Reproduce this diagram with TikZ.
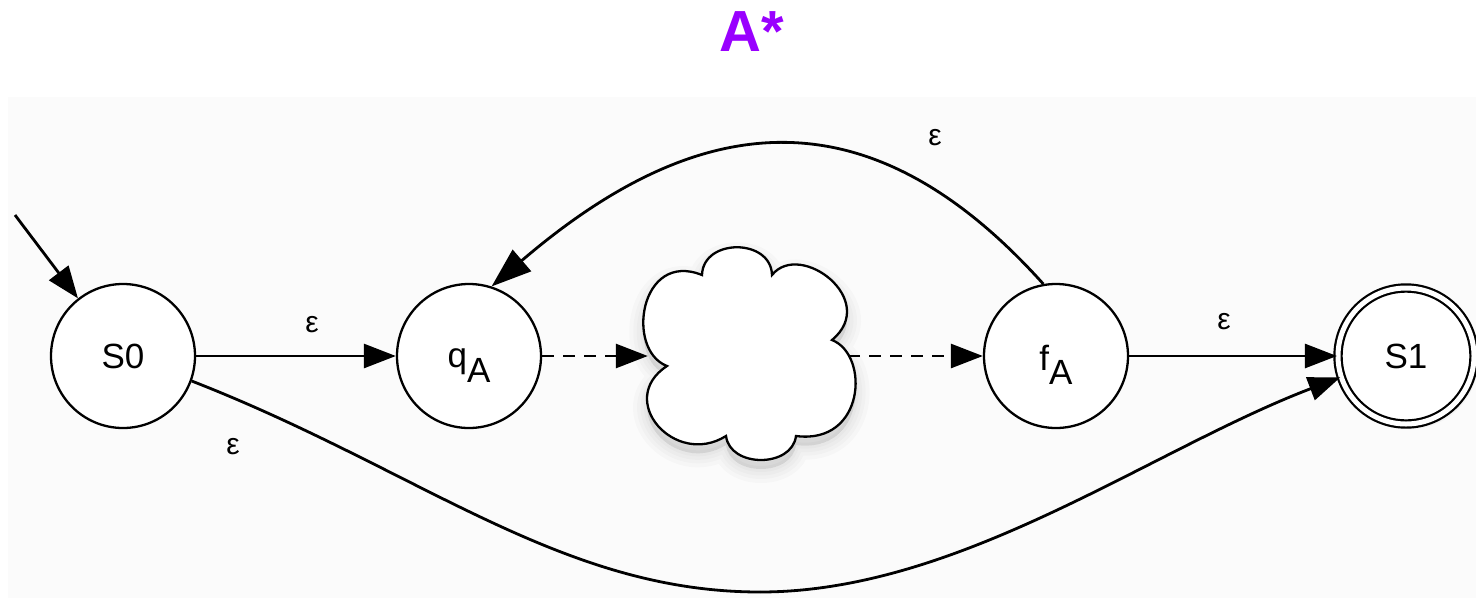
\documentclass[tikz,border=0pt]{standalone}
\usepackage{fontspec}
\setmainfont{Liberation Sans}
\usetikzlibrary{arrows.meta,shadows}
\definecolor{titlepurple}{HTML}{9900FF}
\definecolor{bggray}{HTML}{FBFBFB}
\def\myCloudOutline{(667,366) .. controls (625,350) and (640,250) .. (702,275)
  .. controls (703,238) and (771,238) .. (772,275)
  .. controls (800,240) and (880,300) .. (832,340)
  .. controls (870,355) and (865,445) .. (796,436)
  .. controls (792,468) and (730,468) .. (726,436)
  .. controls (675,468) and (615,400) .. (667,366) -- cycle}
\begin{document}
\begin{tikzpicture}[x=1pt,y=-1pt,
  state/.style={circle,draw=black,line width=2.3pt,fill=white,minimum size=144pt,inner sep=0pt,font=\fontsize{35}{40}\selectfont},
  accept/.style={state,double=white,double distance=5pt,line width=2.2pt,minimum size=136pt},
  tip/.style={-{Triangle[length=32pt,width=24pt]}},
  edge/.style={line width=2.8pt,tip},
  dashedge/.style={edge,dash pattern=on 12pt off 9pt},
  lab/.style={font=\fontsize{30}{34}\selectfont,inner sep=0pt}]
\useasboundingbox (0,0) rectangle (1476,598);
\fill[bggray] (8,97) rectangle (1476,598);
\node[font=\bfseries\fontsize{58}{64}\selectfont,text=titlepurple] (title) at (752,32) {A*};
\node[state] (S0) at (123,356) {S0};
\node[state,text height=22pt,text depth=0pt] (qA) at (469,356) {q\raisebox{-0.44em}{A}};
% cloud (drawn directly) with a soft shadow
\begin{scope}[yshift=-9pt]
  \foreach \w in {28,20,13,6}{\draw[black,opacity=0.02,line width=\w pt,fill=black,fill opacity=0.02] \myCloudOutline;}
\end{scope}
\draw[black,line width=2.3pt,fill=white] \myCloudOutline;
\node[draw=none,minimum width=200pt,minimum height=215pt,inner sep=0pt] (cl) at (748,356) {};
\node[state,text height=28pt,text depth=0pt] (fA) at (1056,356) {f\raisebox{-0.42em}{A}};
\node[accept,drop shadow={opacity=0.06,shadow xshift=4pt,shadow yshift=-5pt}] (S1) at (1406,356) {S1};
\coordinate (init) at (15,215);
\coordinate (bot) at (760,592);
\draw[edge] (init) -- (S0.128);
\draw[edge] (S0) -- (qA);
\draw[dashedge] (qA) -- (cl);
\draw[dashedge] (cl) -- (fA);
\draw[edge] (fA) -- (S1);
\draw[line width=2.8pt,-{Triangle[length=40pt,width=28pt]}] (fA.100) .. controls (870,91) and (701,107) .. (qA.72);
\draw[line width=2.8pt] (S0.-20) .. controls (420,470) and (560,592) .. (bot);
\draw[edge] (bot) .. controls (960,592) and (1150,450) .. (S1.198);
\node[lab] (e1) at (312,325) {ε};
\node[lab] (e2) at (1224,322) {ε};
\node[lab] (e3) at (935,138) {ε};
\node[lab] (e4) at (233,447) {ε};
\end{tikzpicture}
\end{document}
